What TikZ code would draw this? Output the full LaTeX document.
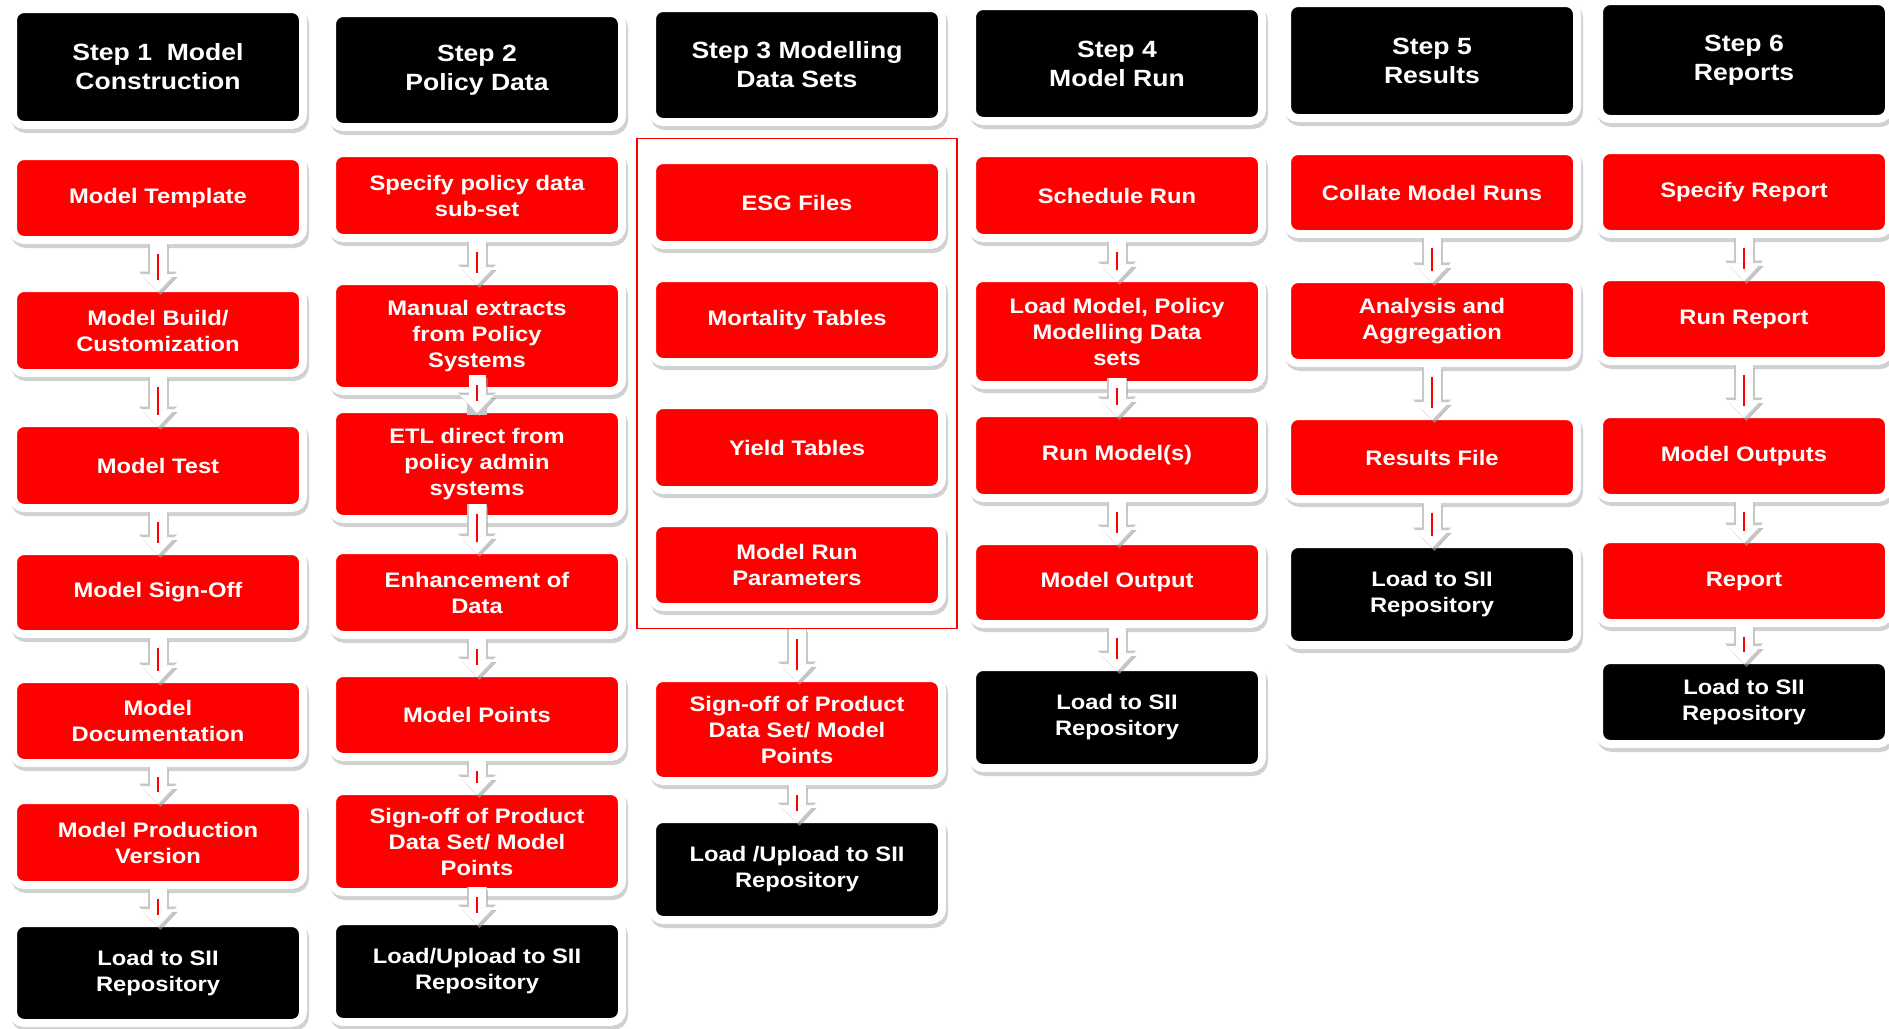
\documentclass[tikz,border=0pt]{standalone}
\usepackage{fontspec}
\setmainfont{Liberation Sans}[FakeStretch=1.13]
\usetikzlibrary{arrows.meta,fit,shadows}
\definecolor{flowred}{HTML}{FF0000}
\definecolor{flowshade}{HTML}{BDBDBD}
\tikzset{
  box/.style={rounded corners=11pt, draw=white, line width=8pt, text=white, align=center,
    font=\fontsize{21}{26}\selectfont\bfseries, minimum width=290pt, minimum height=84pt,
    drop shadow={shadow xshift=2pt, shadow yshift=-4pt, fill=flowshade, draw=flowshade, line width=8pt, opacity=0.7}},
  redbox/.style={box, fill=flowred},
  darkbox/.style={box, fill=black},
  headbox/.style={box, fill=black, minimum height=116pt, font=\fontsize{23.5}{29}\selectfont\bfseries},
  groupframe/.style={draw=flowred, line width=1.5pt, inner xsep=11pt, inner ysep=17.5pt},
  flow/.style={draw=white, line width=17pt, -{Triangle[width=34pt, length=18pt, line width=0.5pt]},
    shorten <=#1, shorten >=-8pt,
    preaction={draw=black!40, opacity=0.55, line width=17pt, -{Triangle[width=34pt, length=18pt, line width=0.5pt]},
      transform canvas={xshift=2.5pt, yshift=-3pt}},
    preaction={draw=black!22, line width=19.5pt, -{Triangle[width=38pt, length=20.5pt, line width=0.5pt]}},
    postaction={draw=flowred, line width=1.5pt, -, shorten <=#1+10pt, shorten >=4pt}},
  flow/.default=0pt
}
\begin{document}
\begin{tikzpicture}[x=1pt, y=-1pt]
  \useasboundingbox (0,0) rectangle (1889,1028);
  % step 1
  \node[headbox] (h1) at (158,67) {Step 1~~Model\\Construction};
  \node[redbox] (tmpl) at (158,198) {Model Template};
  \node[redbox, minimum height=85pt] (build) at (158,330.5) {Model Build/\\Customization};
  \node[redbox, minimum height=85pt] (mtest) at (158,465.5) {Model Test};
  \node[redbox, minimum height=83pt] (msign) at (158,592.5) {Model Sign-Off};
  \node[redbox] (mdoc) at (158,721) {Model\\Documentation};
  \node[redbox, minimum height=85pt] (mprod) at (158,842.5) {Model Production\\Version};
  \node[darkbox, minimum height=100pt] (mload) at (158,973) {Load to SII\\Repository};
  % step 2
  \node[headbox, minimum height=114pt] (h2) at (477,70) {Step 2\\Policy Data};
  \node[redbox, minimum height=85pt] (pspec) at (477,195.5) {Specify policy data\\sub-set};
  \node[redbox, minimum height=110pt] (pman) at (477,336) {Manual extracts\\from Policy\\Systems};
  \node[redbox, minimum height=110pt] (petl) at (477,464) {ETL direct from\\policy admin\\systems};
  \node[redbox, minimum height=85pt] (penh) at (477,592.5) {Enhancement of\\Data};
  \node[redbox] (ppts) at (477,715) {Model Points};
  \node[redbox, minimum height=101pt] (psign) at (477,841.5) {Sign-off of Product\\Data Set/ Model\\Points};
  \node[darkbox, minimum height=101pt] (pload) at (477,971.5) {Load/Upload to SII\\Repository};
  % step 3
  \node[headbox, minimum height=114pt] (h3) at (797,65) {Step 3 Modelling\\Data Sets};
  \node[redbox, minimum height=85pt] (esg) at (797,202.5) {ESG Files};
  \node[redbox] (mort) at (797,320) {Mortality Tables};
  \node[redbox, minimum height=85pt] (yield) at (797,447.5) {Yield Tables};
  \node[redbox] (params) at (797,565) {Model Run\\Parameters};
  \node[groupframe, fit=(esg)(params)] (dataframe) {};
  \node[redbox, minimum height=103pt] (dsign) at (797,729.5) {Sign-off of Product\\Data Set/ Model\\Points};
  \node[darkbox, minimum height=101pt] (dload) at (797,869.5) {Load /Upload to SII\\Repository};
  % step 4
  \node[headbox, minimum height=115pt] (h4) at (1117,63.5) {Step 4\\Model Run};
  \node[redbox, minimum height=85pt] (sched) at (1117,195.5) {Schedule Run};
  \node[redbox, minimum height=107pt] (lmodel) at (1117,331.5) {Load Model, Policy\\Modelling Data\\sets};
  \node[redbox, minimum height=85pt] (runm) at (1117,455.5) {Run Model(s)};
  \node[redbox, minimum height=83pt] (mout) at (1117,582.5) {Model Output};
  \node[darkbox, minimum height=101pt] (rload) at (1117,717.5) {Load to SII\\Repository};
  % step 5
  \node[headbox, minimum height=115pt] (h5) at (1432,60.5) {Step 5\\Results};
  \node[redbox, minimum height=83pt] (coll) at (1432,192.5) {Collate Model Runs};
  \node[redbox] (anal) at (1432,321) {Analysis and\\Aggregation};
  \node[redbox, minimum height=83pt] (resf) at (1432,457.5) {Results File};
  \node[darkbox, minimum height=101pt] (sload) at (1432,594.5) {Load to SII\\Repository};
  % step 6
  \node[headbox, minimum height=118pt] (h6) at (1744,60) {Step 6\\Reports};
  \node[redbox] (rspec) at (1744,192) {Specify Report};
  \node[redbox] (runr) at (1744,319) {Run Report};
  \node[redbox] (outs) at (1744,456) {Model Outputs};
  \node[redbox] (rep) at (1744,581) {Report};
  \node[darkbox] (repload) at (1744,702) {Load to SII\\Repository};
  % block arrows
  \draw[flow] (tmpl) -- (build);
  \draw[flow] (build) -- (mtest);
  \draw[flow] (mtest) -- (msign);
  \draw[flow] (msign) -- (mdoc);
  \draw[flow] (mdoc) -- (mprod);
  \draw[flow] (mprod) -- (mload);
  \draw[flow] (pspec) -- (pman);
  \draw[flow=-20pt] (pman) -- (petl);
  \draw[flow=-19pt] (petl) -- (penh);
  \draw[flow] (penh) -- (ppts);
  \draw[flow] (ppts) -- (psign);
  \draw[flow=-9pt] (psign) -- (pload);
  \draw[flow] (dataframe) -- (dsign);
  \draw[flow] (dsign) -- (dload);
  \draw[flow] (sched) -- (lmodel);
  \draw[flow=-11pt] (lmodel) -- (runm);
  \draw[flow] (runm) -- (mout);
  \draw[flow] (mout) -- (rload);
  \draw[flow] (coll) -- (anal);
  \draw[flow] (anal) -- (resf);
  \draw[flow] (resf) -- (sload);
  \draw[flow] (rspec) -- (runr);
  \draw[flow] (runr) -- (outs);
  \draw[flow] (outs) -- (rep);
  \draw[flow] (rep) -- (repload);
\end{tikzpicture}
\end{document}
